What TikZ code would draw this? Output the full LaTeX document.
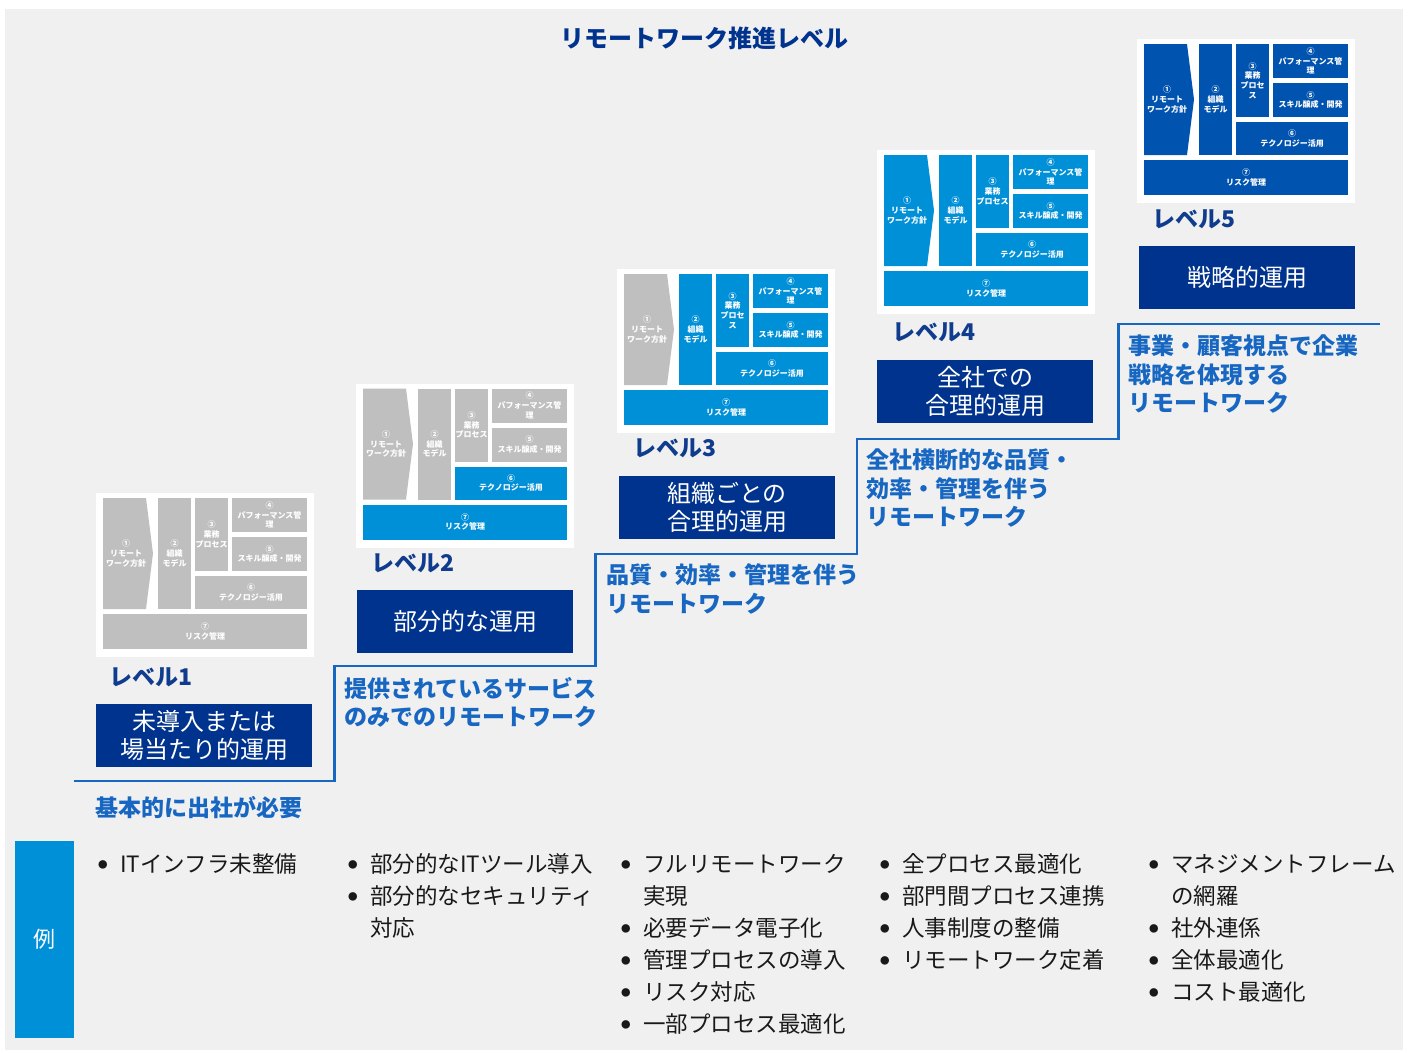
\documentclass[tikz,border=0pt]{standalone}
\usepackage{fontspec}
\setmainfont{Noto Sans CJK JP}
\definecolor{bggray}{RGB}{240,240,240}
\definecolor{darkbox}{RGB}{0,51,141}
\definecolor{lvlblue}{RGB}{16,60,142}
\definecolor{stepblue}{RGB}{23,103,194}
\definecolor{lightb}{RGB}{0,144,216}
\definecolor{minidark}{RGB}{0,83,174}
\definecolor{minigray}{RGB}{191,191,191}
\newcommand{\minifnt}{\fontsize{8}{9.8}\selectfont\bfseries}
\newcommand{\bxs}{\rule[-4.9pt]{0pt}{28pt}}
\newcommand{\bul}{\strut\makebox[22pt][l]{\raisebox{4.4pt}{\fontsize{9.5}{11}\selectfont ●}}}
\newcommand{\ind}{\strut\hspace*{22pt}}
\tikzset{
  panel/.style={fill=white, inner sep=0, minimum width=218, minimum height=164, anchor=north west},
  mbox/.style={inner sep=0, text=white, font=\minifnt, align=center},
  dbox/.style={fill=darkbox, inner sep=0, minimum width=216, minimum height=63, text=white, font=\fontsize{24}{28}\selectfont, align=center},
  steptxt/.style={inner sep=0, anchor=north west, align=left, text=stepblue, font=\fontsize{23}{28.5}\selectfont\bfseries},
  lvl/.style={inner sep=0, anchor=base west, text=lvlblue, font=\fontsize{23}{28}\selectfont\bfseries},
  bullets/.style={inner sep=0, anchor=north west, align=left, text=black!90, font=\fontsize{22.5}{32}\selectfont},
  stair/.style={draw=stepblue, line width=2.5pt},
}
\newcommand{\mkpanel}[6]{%
\begin{scope}[shift={#2}]
  \node[panel] (#1) at (0,0) {};
  \fill[#3] (7,5) -- (50,5) -- (57,60.5) -- (50,116) -- (7,116) -- cycle;
  \node[mbox] (#1-1) at (30,60.5) {①\\リモート\\ワーク方針};
  \node[mbox, fill=#4, minimum width=33, minimum height=111] (#1-2) at (78.5,60.5) {②\\組織\\モデル};
  \node[mbox, fill=#4, minimum width=33, minimum height=73] (#1-3) at (115.5,41.5) {#6};
  \node[mbox, fill=#4, minimum width=75, minimum height=34] (#1-4) at (173.5,22) {④\\パフォーマンス管\\理};
  \node[mbox, fill=#4, minimum width=75, minimum height=34] (#1-5) at (173.5,61) {⑤\\スキル醸成・開発};
  \node[mbox, fill=#5, minimum width=112, minimum height=33] (#1-6) at (155,99.5) {⑥\\テクノロジー活用};
  \node[mbox, fill=#5, minimum width=204, minimum height=35] (#1-7) at (109,138.5) {⑦\\リスク管理};
\end{scope}}
\begin{document}
\begin{tikzpicture}[x=1pt,y=-1pt]
\useasboundingbox (0,0) rectangle (1408,1053);
\fill[white] (0,0) rectangle (1408,1053);
\fill[bggray] (5,9) rectangle (1403,1050);

\node[inner sep=0, anchor=base, text=darkbox, font=\fontsize{24}{28}\selectfont\bfseries] (title) at (704,47) {リモートワーク推進レベル};

% mini panels
\mkpanel{p1}{(96,493)}{minigray}{minigray}{minigray}{③\\業務\\プロセス}
\mkpanel{p2}{(356,383.5)}{minigray}{minigray}{lightb}{③\\業務\\プロセス}
\mkpanel{p3}{(617,269)}{minigray}{lightb}{lightb}{③\\業務\\プロセ\\ス}
\mkpanel{p4}{(877,150)}{lightb}{lightb}{lightb}{③\\業務\\プロセス}
\mkpanel{p5}{(1137,39)}{minidark}{minidark}{minidark}{③\\業務\\プロセ\\ス}

% level labels
\node[lvl] (l1) at (109,685.7) {レベル1};
\node[lvl] (l2) at (371,571.7) {レベル2};
\node[lvl] (l3) at (633,456.7) {レベル3};
\node[lvl] (l4) at (892,340.7) {レベル4};
\node[lvl] (l5) at (1152,227.7) {レベル5};

% dark boxes
\node[dbox] (b1) at (204,735.5) {\bxs 未導入または\\\bxs 場当たり的運用};
\node[dbox] (b2) at (465,621) {\bxs 部分的な運用};
\node[dbox] (b3) at (727,507) {\bxs 組織ごとの\\\bxs 合理的運用};
\node[dbox] (b4) at (985,391.5) {\bxs 全社での\\\bxs 合理的運用};
\node[dbox] (b5) at (1247,277.5) {\bxs 戦略的運用};

% staircase
\coordinate (st0) at (74,781);
\coordinate (st1) at (334.5,781);
\coordinate (st2) at (334.5,666);
\coordinate (st3) at (595.5,666);
\coordinate (st4) at (595.5,554);
\coordinate (st5) at (857,554);
\coordinate (st6) at (857,439);
\coordinate (st7) at (1118.5,439);
\coordinate (st8) at (1118.5,324);
\coordinate (st9) at (1379.5,324);
\draw[stair] (st0) -- (st1) -- (st2) -- (st3) -- (st4) -- (st5) -- (st6) -- (st7) -- (st8) -- (st9);

% step texts
\node[steptxt] (s1) at (95,795.8) {\strut 基本的に出社が必要};
\node[steptxt] (s2) at (344,676.8) {\strut 提供されているサービス\\\strut のみでのリモートワーク};
\node[steptxt] (s3) at (606,563.8) {\strut 品質・効率・管理を伴う\\\strut リモートワーク};
\node[steptxt] (s4) at (866,448.8) {\strut 全社横断的な品質・\\\strut 効率・管理を伴う\\\strut リモートワーク};
\node[steptxt] (s5) at (1128,334.8) {\strut 事業・顧客視点で企業\\\strut 戦略を体現する\\\strut リモートワーク};

% example box
\fill[lightb] (15,841) rectangle (74,1037.5);
\node[inner sep=0, text=white, font=\fontsize{22}{26}\selectfont] (rei) at (44,939.5) {例};

% bullet lists
\node[bullets] (c1) at (98,850.2) {\bul ITインフラ未整備};
\node[bullets] (c2) at (348,850.2) {\bul 部分的なITツール導入\\\bul 部分的なセキュリティ\\\ind 対応};
\node[bullets] (c3) at (621,850.2) {\bul フルリモートワーク\\\ind 実現\\\bul 必要データ電子化\\\bul 管理プロセスの導入\\\bul リスク対応\\\bul 一部プロセス最適化};
\node[bullets] (c4) at (880,850.2) {\bul 全プロセス最適化\\\bul 部門間プロセス連携\\\bul 人事制度の整備\\\bul リモートワーク定着};
\node[bullets] (c5) at (1149,850.2) {\bul マネジメントフレーム\\\ind の網羅\\\bul 社外連係\\\bul 全体最適化\\\bul コスト最適化};
\end{tikzpicture}
\end{document}
